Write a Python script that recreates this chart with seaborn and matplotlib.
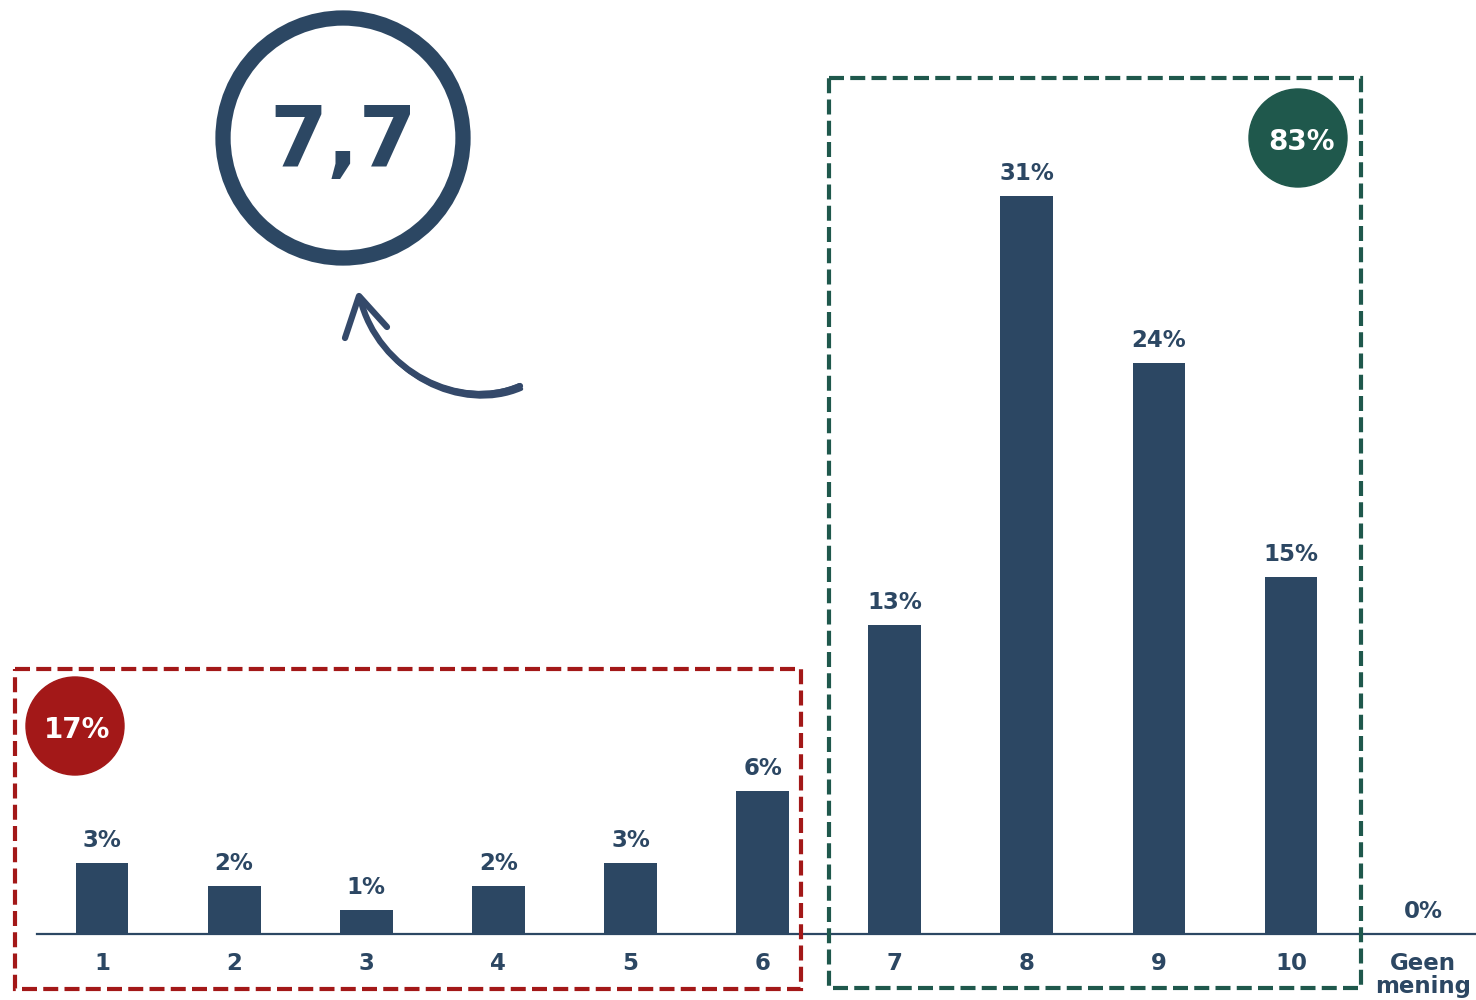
import matplotlib
matplotlib.use("Agg")
import matplotlib.pyplot as plt
import seaborn as sns
import pandas as pd
from matplotlib.patches import Circle, Rectangle, PathPatch
from matplotlib.path import Path

# ---- data ----
categories = ["1", "2", "3", "4", "5", "6", "7", "8", "9", "10", "Geen\nmening"]
values = [3, 2, 1, 2, 3, 6, 13, 31, 24, 15, 0]
value_labels = ["3%", "2%", "1%", "2%", "3%", "6%", "13%", "31%", "24%", "15%", "0%"]
average_score = "7,7"
low_share = "17%"
high_share = "83%"

NAVY = "#2C4763"
RED = "#A31818"
GREEN = "#1F584C"

sns.set_theme(style="white")
plt.rcParams["font.family"] = ["DejaVu Sans"]
plt.rcParams["font.weight"] = "bold"

W, H = 1476, 1000
fig = plt.figure(figsize=(W / 100, H / 100), dpi=100)

# main bar axes: baseline at y=934px, 23.8 px per percent
ax = fig.add_axes([37 / W, 66 / H, (W - 37) / W, 934 / H])
df = pd.DataFrame({"cat": categories, "val": values})
sns.barplot(data=df, x="cat", y="val", color=NAVY, width=0.4, saturation=1,
            linewidth=0, ax=ax)
ax.set_xlim(-0.492, 10.4)
ax.set_ylim(0, 934 / 23.8)
for s in ["top", "right", "left"]:
    ax.spines[s].set_visible(False)
ax.spines["bottom"].set_color(NAVY)
ax.spines["bottom"].set_linewidth(1.6)
ax.set_yticks([])
ax.set_xlabel("")
ax.set_ylabel("")
ax.tick_params(axis="x", length=0, pad=13, labelsize=16.5, labelcolor=NAVY)
for lab in ax.get_xticklabels():
    lab.set_fontweight("bold")
    lab.set_linespacing(1.0)

for i, (v, t) in enumerate(zip(values, value_labels)):
    ax.annotate(t, (i, v), xytext=(0, 11.5), textcoords="offset points",
                ha="center", va="baseline", fontsize=16.5, fontweight="bold",
                color=NAVY)

# overlay in pixel coordinates for decorations
ov = fig.add_axes([0, 0, 1, 1], zorder=5)
ov.set_xlim(0, W)
ov.set_ylim(H, 0)
ov.axis("off")
ov.patch.set_alpha(0)

# dashed group boxes
ov.add_patch(Rectangle((15, 669), 786, 320, fill=False, edgecolor=RED,
                       linewidth=3.0, linestyle=(0, (3.6, 1.5))))
ov.add_patch(Rectangle((829, 78), 532, 910, fill=False, edgecolor=GREEN,
                       linewidth=3.0, linestyle=(0, (3.6, 1.5))))

# share circles
ov.add_patch(Circle((75, 726), 49, color=RED))
ov.text(77, 727, low_share, ha="center", va="center_baseline", fontsize=20,
        fontweight="bold", color="white")
ov.add_patch(Circle((1298, 138), 49, color=GREEN))
ov.text(1302, 139, high_share, ha="center", va="center_baseline", fontsize=20,
        fontweight="bold", color="white")

# average score circle
ov.add_patch(Circle((343, 138), 120, fill=False, edgecolor=NAVY, linewidth=11))
ov.text(343, 167, average_score, ha="center", va="baseline", fontsize=60,
        fontweight="bold", color=NAVY)

# hand-drawn arrow
ARROW = "#34496A"
for dx, dy, lw in [(0, 0, 4.5), (1.5, 3.0, 2.5), (-1.0, -1.5, 2.0)]:
    p = Path([(520 + dx, 386 + dy), (460 + dx, 412 + dy), (378 + dx, 372 + dy),
              (360 + dx, 298 + dy)],
             [Path.MOVETO, Path.CURVE4, Path.CURVE4, Path.CURVE4])
    ov.add_patch(PathPatch(p, fill=False, edgecolor=ARROW, linewidth=lw,
                           capstyle="round"))
ov.plot([345, 359, 387], [338, 296, 327], color=ARROW, linewidth=4.5,
        solid_capstyle="round", solid_joinstyle="round")

fig.savefig("out.png", dpi=100)
